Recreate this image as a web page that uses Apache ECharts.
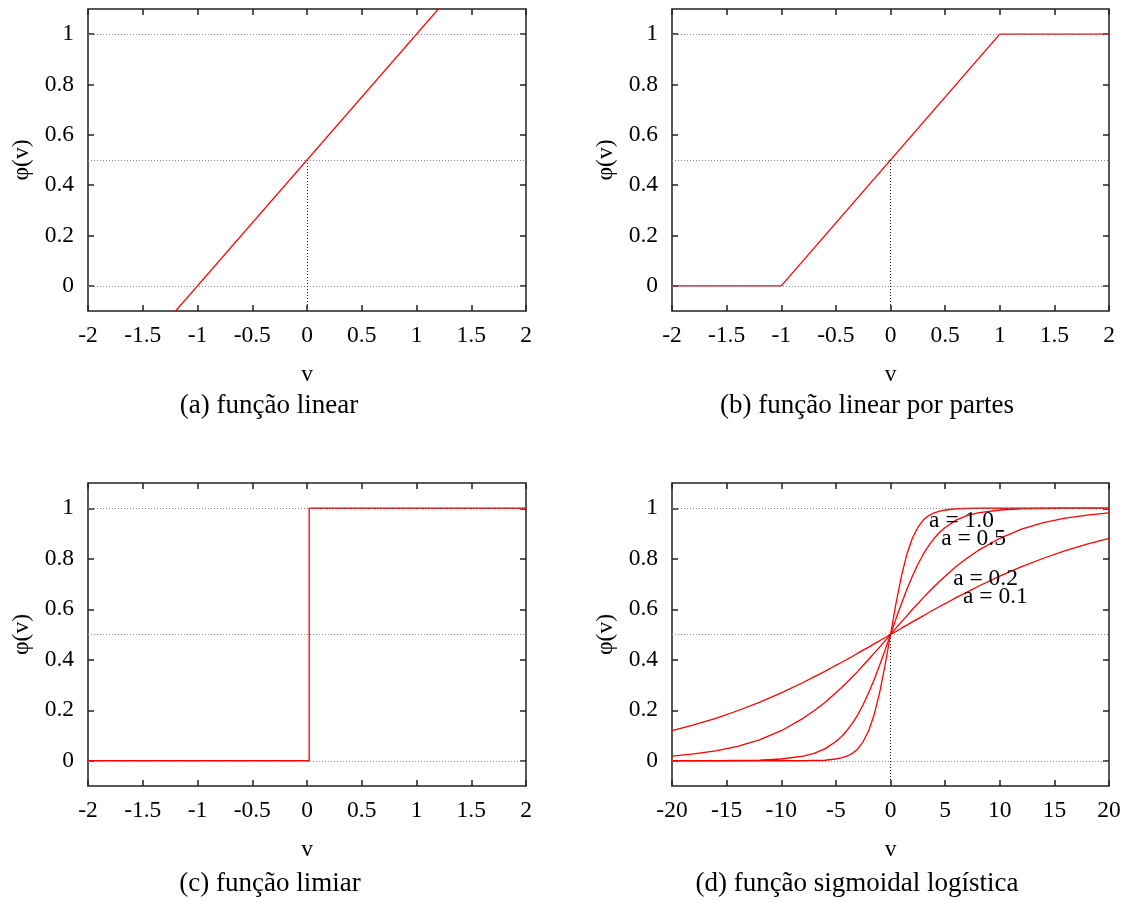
<!DOCTYPE html>
<html>
<head>
<meta charset="utf-8">
<script src="https://cdn.jsdelivr.net/npm/echarts@6/dist/echarts.min.js"></script>
<style>
html,body{margin:0;padding:0;background:#fff;}
#chart{width:1130px;height:900px;}
</style>
</head>
<body>
<div id="chart"></div>
<script>
// ---------- data ----------
const captions = ['(a) função linear', '(b) função linear por partes', '(c) função limiar', '(d) função sigmoidal logística'];
const xTicksSmall = [-2, -1.5, -1, -0.5, 0, 0.5, 1, 1.5, 2];
const xTicksSig = [-20, -15, -10, -5, 0, 5, 10, 15, 20];
const yTicks = [0, 0.2, 0.4, 0.6, 0.8, 1];
const refLevels = [0, 0.5, 1];

// (a) linear
const linV = [-2, 2];
const linPhi = [-0.5, 1.5];
// (b) piecewise linear
const pwV = [-2, -1, 1, 2];
const pwPhi = [0, 0, 1, 1];
// (c) threshold
const thV = [-2, 0.02, 0.02, 2];
const thPhi = [0, 0, 1, 1];
// (d) logistic sigmoid
const sigV = [-20, -18, -16, -14, -12, -10, -8, -7, -6, -5, -4.5, -4, -3.5, -3, -2.5, -2, -1.5, -1, -0.5, 0,
  0.5, 1, 1.5, 2, 2.5, 3, 3.5, 4, 4.5, 5, 6, 7, 8, 10, 12, 14, 16, 18, 20];
const sigA10 = [0, 0, 0, 0, 0, 0, 0, 0.001, 0.002, 0.007, 0.011, 0.018, 0.029, 0.047, 0.076, 0.119, 0.182, 0.269, 0.378, 0.5,
  0.622, 0.731, 0.818, 0.881, 0.924, 0.953, 0.971, 0.982, 0.989, 0.993, 0.998, 0.999, 1, 1, 1, 1, 1, 1, 1];
const sigA05 = [0, 0, 0, 0.001, 0.002, 0.007, 0.018, 0.029, 0.047, 0.076, 0.095, 0.119, 0.148, 0.182, 0.223, 0.269, 0.321, 0.378, 0.438, 0.5,
  0.562, 0.622, 0.679, 0.731, 0.777, 0.818, 0.852, 0.881, 0.905, 0.924, 0.953, 0.971, 0.982, 0.993, 0.998, 0.999, 1, 1, 1];
const sigA02 = [0.018, 0.027, 0.039, 0.057, 0.083, 0.119, 0.168, 0.198, 0.231, 0.269, 0.289, 0.310, 0.332, 0.354, 0.378, 0.401, 0.426, 0.450, 0.475, 0.5,
  0.525, 0.550, 0.574, 0.599, 0.622, 0.646, 0.668, 0.690, 0.711, 0.731, 0.769, 0.802, 0.832, 0.881, 0.917, 0.943, 0.961, 0.973, 0.982];
const sigA01 = [0.119, 0.142, 0.168, 0.198, 0.231, 0.269, 0.310, 0.332, 0.354, 0.378, 0.389, 0.401, 0.413, 0.426, 0.438, 0.450, 0.463, 0.475, 0.488, 0.5,
  0.512, 0.525, 0.537, 0.550, 0.562, 0.574, 0.587, 0.599, 0.611, 0.622, 0.646, 0.668, 0.690, 0.731, 0.769, 0.802, 0.832, 0.858, 0.881];
const sigLabels = ['a = 1.0', 'a = 0.5', 'a = 0.2', 'a = 0.1'];
const sigLabelX = [6.5, 7.6, 8.7, 9.6];
const sigLabelY = [0.950, 0.880, 0.722, 0.648];

// ---------- layout ----------
const FONT = 'Liberation Serif';
const FS = 23.5;
const FS_CAP = 27;
const grids = [
  {left: 88, top: 9, width: 438, height: 302},
  {left: 672, top: 9, width: 437, height: 302},
  {left: 88, top: 483, width: 438, height: 303},
  {left: 672, top: 483, width: 437, height: 303}
];
const captionPos = [[269, 406], [867, 406], [270, 884], [857, 884]];
const xRanges = [[-2, 2, 0.5], [-2, 2, 0.5], [-2, 2, 0.5], [-20, 20, 5]];

const tickStyle = {color: '#222', width: 1.5};
const xAxes = [], yAxes = [];
grids.forEach((g, i) => {
  const [mn, mx, iv] = xRanges[i];
  const ticks = i === 3 ? xTicksSig : xTicksSmall;
  xAxes.push({
    type: 'value', gridIndex: i, min: mn, max: mx, interval: iv, position: 'bottom',
    name: 'v', nameLocation: 'middle', nameGap: 52,
    nameTextStyle: {fontFamily: FONT, fontSize: FS, color: '#000'},
    axisLine: {show: false, onZero: false},
    axisTick: {show: true, inside: true, length: 6, lineStyle: tickStyle},
    axisLabel: {show: true, margin: 13, fontFamily: FONT, fontSize: FS, color: '#000',
      customValues: ticks, formatter: v => String(v)},
    splitLine: {show: false}
  });
  xAxes.push({
    type: 'value', gridIndex: i, min: mn, max: mx, interval: iv, position: 'top',
    axisLine: {show: false, onZero: false},
    axisTick: {show: true, inside: true, length: 6, lineStyle: tickStyle},
    axisLabel: {show: false}, splitLine: {show: false}
  });
  yAxes.push({
    type: 'value', gridIndex: i, min: -0.1, max: 1.1, position: 'left',
    name: 'φ(v)', nameLocation: 'middle', nameGap: 54,
    nameTextStyle: {fontFamily: FONT, fontSize: FS, color: '#000'},
    axisLine: {show: false, onZero: false},
    axisTick: {show: true, inside: true, length: 6, customValues: yTicks, lineStyle: tickStyle},
    axisLabel: {show: true, margin: 14, fontFamily: FONT, fontSize: FS, color: '#000',
      customValues: yTicks, formatter: v => String(v)},
    splitLine: {show: false}
  });
  yAxes.push({
    type: 'value', gridIndex: i, min: -0.1, max: 1.1, position: 'right',
    axisLine: {show: false, onZero: false},
    axisTick: {show: true, inside: true, length: 6, customValues: yTicks, lineStyle: tickStyle},
    axisLabel: {show: false}, splitLine: {show: false}
  });
});

function zip(xs, ys) { return xs.map((x, k) => [x, ys[k]]); }

const series = [];
// reference dotted lines
grids.forEach((g, i) => {
  const [mn, mx] = xRanges[i];
  const md = refLevels.map(l => [{coord: [mn, l]}, {coord: [mx, l]}]);
  if (i !== 2) md.push([{coord: [0, -0.1], lineStyle: {color: '#222'}}, {coord: [0, 0.5]}]);
  series.push({
    type: 'line', xAxisIndex: 2 * i, yAxisIndex: 2 * i, data: [], z: 1, silent: true,
    markLine: {
      silent: true, symbol: ['none', 'none'], label: {show: false},
      lineStyle: {type: [1, 2], color: '#888', width: 1},
      emphasis: {disabled: true},
      animation: false,
      data: md
    }
  });
});

const redStyle = {color: '#ff0000', width: 1.3};
function redLine(i, data) {
  return {
    type: 'line', xAxisIndex: 2 * i, yAxisIndex: 2 * i, data: data, showSymbol: false, symbol: 'none',
    lineStyle: redStyle, itemStyle: {color: '#ff0000'}, z: 3, clip: true, animation: false, silent: true
  };
}
series.push(redLine(0, zip(linV, linPhi)));
series.push(redLine(1, zip(pwV, pwPhi)));
series.push(redLine(2, zip(thV, thPhi)));
[sigA10, sigA05, sigA02, sigA01].forEach(arr => series.push(redLine(3, zip(sigV, arr))));

// curve labels
series.push({
  type: 'scatter', xAxisIndex: 6, yAxisIndex: 6, symbolSize: 0, z: 5, silent: true, animation: false,
  itemStyle: {opacity: 1},
  data: sigLabels.map((t, k) => ({name: t, value: [sigLabelX[k], sigLabelY[k]]})),
  label: {show: true, position: 'inside', formatter: '{b}', fontFamily: FONT, fontSize: FS, color: '#000',
    opacity: 1, textBorderWidth: 0}
});

const graphics = captions.map((c, i) => ({
  type: 'text', x: captionPos[i][0], y: captionPos[i][1], silent: true,
  style: {text: c, fontFamily: FONT, fontSize: FS_CAP, fill: '#000', textAlign: 'center', textVerticalAlign: 'middle'}
}));

const option = {
  backgroundColor: '#fff',
  animation: false,
  grid: grids.map(g => Object.assign({show: true, borderColor: '#222', borderWidth: 1.5, backgroundColor: 'transparent', containLabel: false}, g)),
  xAxis: xAxes,
  yAxis: yAxes,
  series: series,
  graphic: graphics
};

const chart = echarts.init(document.getElementById('chart'), null, {renderer: 'canvas'});
chart.setOption(option);
</script>
</body>
</html>
